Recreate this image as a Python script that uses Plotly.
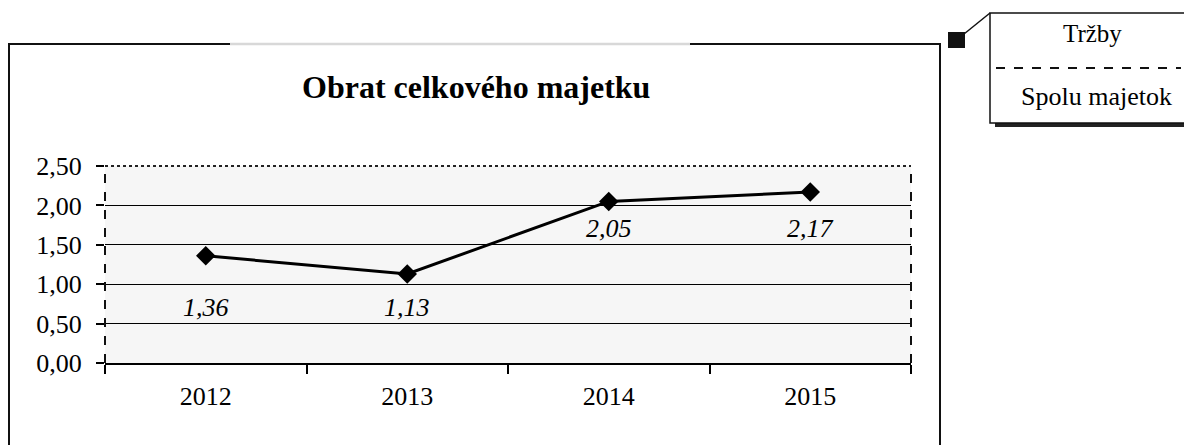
import plotly.graph_objects as go

# ---- data ----
years = ["2012", "2013", "2014", "2015"]
obrat = [1.36, 1.13, 2.05, 2.17]
labels = ["1,36", "1,13", "2,05", "2,17"]
label_shift = [-52, -34, -27, -36]  # pixel offsets of data labels (style)
y_ticks = [0.0, 0.5, 1.0, 1.5, 2.0, 2.5]
y_tick_text = ["0,00", "0,50", "1,00", "1,50", "2,00", "2,50"]
title_text = "<b>Obrat celkového majetku</b>"
box_top = "Tržby"
box_bottom = "Spolu majetok"

# ---- layout geometry (page pixels) ----
W, H = 1192, 445
OFF = 8  # page body margin
PL, PR, PT, PB = 105, 911, 166, 363
FONT = "Liberation Serif"


def px(x):
    return (x - PL) / (PR - PL)


def py(y):
    return (PB - y) / (PB - PT)


fig = go.Figure()
fig.add_trace(go.Scatter(
    x=years, y=obrat, mode="lines+markers",
    line=dict(color="black", width=3),
    marker=dict(symbol="diamond", size=15, color="black"),
    hoverinfo="skip", showlegend=False,
))

annotations = []
for i, (v, t, s) in enumerate(zip(obrat, labels, label_shift)):
    annotations.append(dict(
        x=i, y=v, xref="x", yref="y", text="<i>" + t + "</i>",
        showarrow=False, yshift=s, yanchor="middle", xanchor="center",
        font=dict(family=FONT, size=26, color="black"),
    ))

annotations.append(dict(
    x=px(476), y=py(87), xref="paper", yref="paper", text=title_text,
    showarrow=False, xanchor="center", yanchor="middle",
    font=dict(family=FONT, size=32, color="black"),
))
annotations.append(dict(
    x=px(1092), y=py(33), xref="paper", yref="paper", text=box_top,
    showarrow=False, xanchor="center", yanchor="middle",
    font=dict(family=FONT, size=25, color="black"),
))
annotations.append(dict(
    x=px(1096), y=py(97), xref="paper", yref="paper", text=box_bottom,
    showarrow=False, xanchor="center", yanchor="middle",
    font=dict(family=FONT, size=26, color="black"),
))

shapes = [
    # outer chart frame (bottom edge falls below the visible page)
    dict(type="rect", xref="paper", yref="paper",
         x0=px(9), x1=px(940), y0=py(450), y1=py(44),
         line=dict(color="#111", width=2), layer="below"),
    # faint part of top border (scan)
    dict(type="line", xref="paper", yref="paper",
         x0=px(230), x1=px(690), y0=py(44), y1=py(44),
         line=dict(color="#d8d8d8", width=2.5)),
    # plot area dashed border: left, right, top
    dict(type="line", xref="paper", yref="paper",
         x0=0, x1=0, y0=0, y1=1,
         line=dict(color="#111", width=2, dash="dash")),
    dict(type="line", xref="paper", yref="paper",
         x0=1, x1=1, y0=0, y1=1,
         line=dict(color="#111", width=2, dash="dash")),
    dict(type="line", xref="paper", yref="paper",
         x0=0, x1=1, y0=1, y1=1,
         line=dict(color="#222", width=2, dash="dot")),
    # callout box shadow
    dict(type="rect", xref="paper", yref="paper",
         x0=px(995), x1=px(1189), y0=py(127), y1=py(17),
         fillcolor="#222", line=dict(width=0)),
    # callout box
    dict(type="rect", xref="paper", yref="paper",
         x0=px(990), x1=px(1185), y0=py(123), y1=py(13),
         fillcolor="white", line=dict(color="#111", width=1.5)),
    # fraction dashed line
    dict(type="line", xref="paper", yref="paper",
         x0=px(996), x1=px(1181), y0=py(68), y1=py(68),
         line=dict(color="#111", width=2, dash="dash")),
    # small black square and connector
    dict(type="rect", xref="paper", yref="paper",
         x0=px(948), x1=px(965), y0=py(48), y1=py(32),
         fillcolor="#111", line=dict(width=0)),
    dict(type="line", xref="paper", yref="paper",
         x0=px(964), x1=px(990), y0=py(34), y1=py(13),
         line=dict(color="#111", width=1.5)),
]

fig.update_layout(
    width=W, height=H,
    margin=dict(l=PL - OFF, r=W - (PR - OFF), t=PT - OFF, b=H - (PB - OFF),
                pad=0),
    paper_bgcolor="white", plot_bgcolor="#f6f6f6",
    font=dict(family=FONT, color="black"),
    annotations=annotations, shapes=shapes,
    xaxis=dict(
        type="category", showgrid=False, showline=True, linecolor="black",
        linewidth=2, ticks="outside", tickson="boundaries", ticklen=9,
        tickwidth=1.5, tickcolor="black", ticklabelstandoff=9,
        tickfont=dict(family=FONT, size=26, color="black"),
        range=[-0.5, 3.5], zeroline=False, fixedrange=True,
    ),
    yaxis=dict(
        range=[0, 2.5], tickvals=y_ticks, ticktext=y_tick_text,
        showgrid=True, gridcolor="black", gridwidth=1, zeroline=False,
        showline=False, ticks="outside", ticklen=8, tickwidth=1.5,
        tickcolor="black", ticklabelstandoff=9,
        tickfont=dict(family=FONT, size=26, color="black"),
        fixedrange=True,
    ),
)

fig.write_html("out.html")
